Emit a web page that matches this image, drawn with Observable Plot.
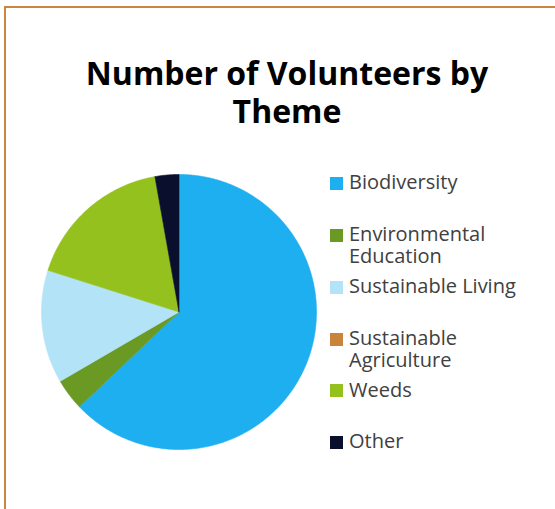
<!DOCTYPE html>
<html>
<head>
<meta charset="utf-8">
<script src="https://cdn.jsdelivr.net/npm/d3@7"></script>
<script src="https://cdn.jsdelivr.net/npm/@observablehq/plot@0.6"></script>
<style>
  html, body { margin: 0; padding: 0; width: 555px; height: 509px; overflow: hidden; background: #fff; font-family: "Open Sans", sans-serif; }
  #frame { position: absolute; left: 4px; top: 6px; width: 700px; height: 700px; border-left: 2px solid #C9863C; border-top: 2px solid #C9863C; box-sizing: border-box; }
  .title { position: absolute; left: 0; width: 574px; height: 37px; text-align: center; font-weight: 700; font-size: 32px; line-height: 37px; color: #000; white-space: nowrap; overflow: visible; }
  #chart { position: absolute; left: 0; top: 140px; }
  .item { position: absolute; left: 349px; width: 185px; font-size: 20px; line-height: 22px; color: #404040; }
  .sw { position: absolute; left: 330px; width: 13px; height: 13px; }
</style>
</head>
<body>
<div id="frame"></div>
<div class="title" style="top:54px">Number of Volunteers by</div>
<div class="title" style="top:91.8px">Theme</div>
<div id="chart"></div>
<div id="legend"></div>
<script>
const themes = ["Biodiversity", "Environmental Education", "Sustainable Living", "Sustainable Agriculture", "Weeds", "Other"];
const volunteers = [62.9, 3.7, 13.3, 0, 17.3, 2.8];
const colors = ["#1DAFF0", "#6A9A23", "#B3E3F6", "#C9833A", "#95C11F", "#0B0F2E"];

const data = themes.map((t, i) => ({theme: t, value: volunteers[i]}));
const arcs = d3.pie().sort(null).value(d => d.value).startAngle(0).endAngle(2 * Math.PI)(data);

// Build polygon outlines of each slice from the pie angles (unit radius)
const pts = [];
for (const a of arcs) {
  if (a.endAngle - a.startAngle <= 0) continue;
  const n = Math.max(2, Math.ceil((a.endAngle - a.startAngle) / 0.01));
  pts.push({theme: a.data.theme, x: 0, y: 0});
  for (let k = 0; k <= n; k++) {
    const ang = a.startAngle + (a.endAngle - a.startAngle) * k / n;
    pts.push({theme: a.data.theme, x: Math.sin(ang), y: Math.cos(ang)});
  }
  pts.push({theme: a.data.theme, x: 0, y: 0});
}

const cx = 178.5, cy = 311.5 - 140, r = 137.5;
const plot = Plot.plot({
  width: 330,
  height: 330,
  margin: 0,
  x: {domain: [-1, 1], range: [cx - r, cx + r], axis: null},
  y: {domain: [-1, 1], range: [cy + r, cy - r], axis: null},
  color: {domain: themes, range: colors},
  marks: [
    Plot.line(pts, {x: "x", y: "y", z: "theme", fill: "theme", stroke: "theme", strokeWidth: 0.6, curve: "linear"})
  ]
});
document.getElementById("chart").appendChild(plot);

// Legend
const legend = document.getElementById("legend");
themes.forEach((t, i) => {
  const base = 190.2 + i * 51.8;
  const sw = document.createElement("div");
  sw.className = "sw";
  sw.style.top = (base - 13) + "px";
  sw.style.background = colors[i];
  legend.appendChild(sw);
  const it = document.createElement("div");
  it.className = "item";
  it.style.top = (base - 18.8) + "px";
  it.textContent = t;
  legend.appendChild(it);
});
</script>
</body>
</html>
